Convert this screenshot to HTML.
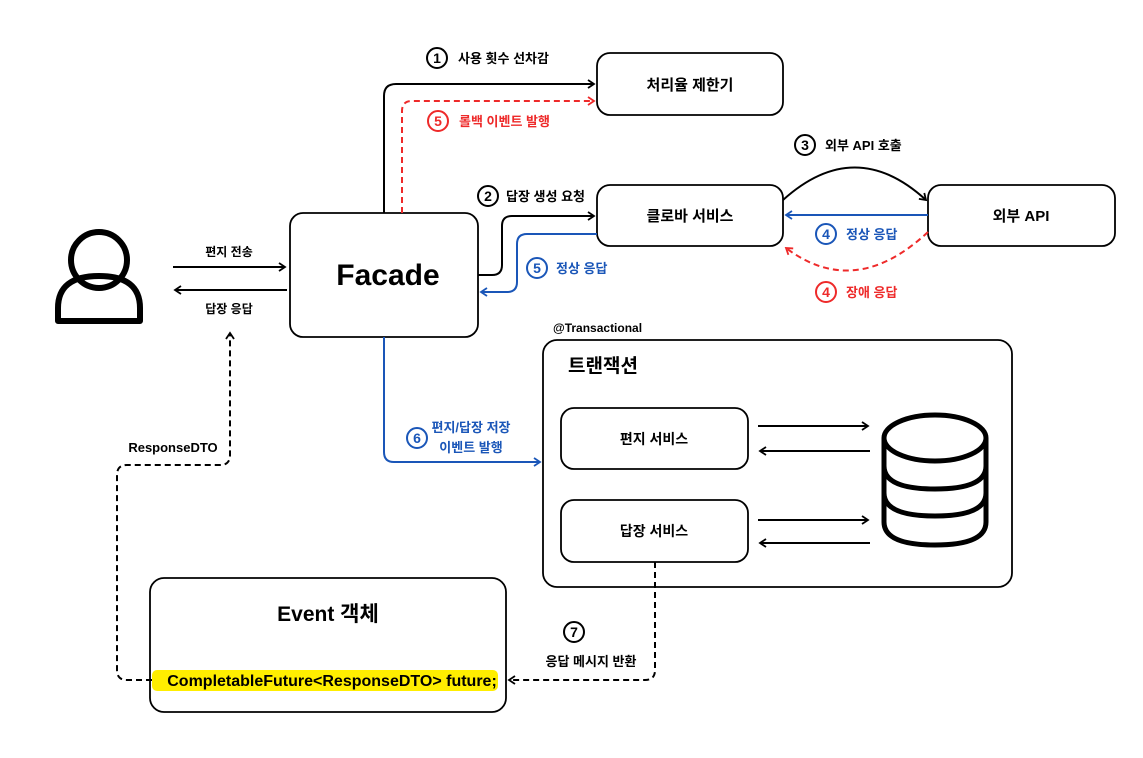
<!DOCTYPE html>
<html><head><meta charset="utf-8"><style>
html,body{margin:0;padding:0;background:#fff}
svg{display:block}
text{font-family:"Liberation Sans","Noto Sans CJK KR",sans-serif;font-weight:bold}
</style></head><body>
<svg width="1143" height="758" viewBox="0 0 1143 758" xmlns="http://www.w3.org/2000/svg">
<defs>
<marker id="ak" markerWidth="10" markerHeight="10" refX="8" refY="5" orient="auto" markerUnits="userSpaceOnUse"><path d="M2,1 L8,5 L2,9" fill="none" stroke="#000" stroke-width="1.8"/></marker>
<marker id="ab" markerWidth="10" markerHeight="10" refX="8" refY="5" orient="auto" markerUnits="userSpaceOnUse"><path d="M2,1 L8,5 L2,9" fill="none" stroke="#1a56b8" stroke-width="1.8"/></marker>
<marker id="ar" markerWidth="10" markerHeight="10" refX="8" refY="5" orient="auto" markerUnits="userSpaceOnUse"><path d="M2,1 L8,5 L2,9" fill="none" stroke="#ee2a2a" stroke-width="1.8"/></marker>
</defs>
<!-- person -->
<circle cx="99" cy="260" r="28" fill="none" stroke="#000" stroke-width="6"/>
<path d="M58,321 L58,308 Q58,276 99,276 Q140,276 140,308 L140,321 Z" fill="none" stroke="#000" stroke-width="6" stroke-linejoin="round"/>
<line x1="173" y1="267" x2="285" y2="267" stroke="#000" stroke-width="2" marker-end="url(#ak)"/>
<line x1="287" y1="290" x2="175" y2="290" stroke="#000" stroke-width="2" marker-end="url(#ak)"/>
<text x="229" y="256" font-size="12" text-anchor="middle">편지 전송</text>
<text x="229" y="313" font-size="12" text-anchor="middle">답장 응답</text>
<!-- boxes -->
<g fill="#fff" stroke="#000" stroke-width="1.8">
<rect x="290" y="213" width="188" height="124" rx="13"/>
<rect x="597" y="53" width="186" height="62" rx="13"/>
<rect x="597" y="185" width="186" height="61" rx="13"/>
<rect x="928" y="185" width="187" height="61" rx="13"/>
<rect x="543" y="340" width="469" height="247" rx="14"/>
<rect x="561" y="408" width="187" height="61" rx="13"/>
<rect x="561" y="500" width="187" height="62" rx="13"/>
<rect x="150" y="578" width="356" height="134" rx="14"/>
</g>
<text x="388" y="285" font-size="30" text-anchor="middle">Facade</text>
<text x="690" y="90" font-size="15" text-anchor="middle">처리율 제한기</text>
<text x="690" y="221" font-size="15" text-anchor="middle">클로바 서비스</text>
<text x="1021" y="221" font-size="15" text-anchor="middle">외부 API</text>
<text x="553" y="332" font-size="12">@Transactional</text>
<text x="568" y="372" font-size="19">트랜잭션</text>
<text x="654" y="444" font-size="14" text-anchor="middle">편지 서비스</text>
<text x="654" y="536" font-size="14" text-anchor="middle">답장 서비스</text>
<text x="328" y="621" font-size="21" text-anchor="middle">Event 객체</text>
<rect x="152" y="670" width="346" height="21" rx="5" fill="#ffee00"/>
<text x="332" y="686" font-size="16" text-anchor="middle">CompletableFuture&lt;ResponseDTO&gt; future;</text>
<!-- connectors -->
<path d="M384,213 L384,96 Q384,84 396,84 L594,84" fill="none" stroke="#000" stroke-width="2" marker-end="url(#ak)"/>
<path d="M402,213 L402,111 Q402,101 412,101 L594,101" fill="none" stroke="#ee2a2a" stroke-width="2" stroke-dasharray="6,4" marker-end="url(#ar)"/>
<path d="M478,275 L492,275 Q502,275 502,265 L502,226 Q502,216 512,216 L594,216" fill="none" stroke="#000" stroke-width="2" marker-end="url(#ak)"/>
<path d="M597,234 L527,234 Q517,234 517,244 L517,282 Q517,292 507,292 L481,292" fill="none" stroke="#1a56b8" stroke-width="2" marker-end="url(#ab)"/>
<path d="M783,200 Q855,135 926,200" fill="none" stroke="#000" stroke-width="2" marker-end="url(#ak)"/>
<line x1="928" y1="215" x2="786" y2="215" stroke="#1a56b8" stroke-width="2" marker-end="url(#ab)"/>
<path d="M928,232 Q855,300 786,248" fill="none" stroke="#ee2a2a" stroke-width="2" stroke-dasharray="6,4" marker-end="url(#ar)"/>
<path d="M384,337 L384,452 Q384,462 394,462 L540,462" fill="none" stroke="#1a56b8" stroke-width="2" marker-end="url(#ab)"/>
<line x1="758" y1="426" x2="868" y2="426" stroke="#000" stroke-width="2" marker-end="url(#ak)"/>
<line x1="870" y1="451" x2="760" y2="451" stroke="#000" stroke-width="2" marker-end="url(#ak)"/>
<line x1="758" y1="520" x2="868" y2="520" stroke="#000" stroke-width="2" marker-end="url(#ak)"/>
<line x1="870" y1="543" x2="760" y2="543" stroke="#000" stroke-width="2" marker-end="url(#ak)"/>
<path d="M655,562 L655,670 Q655,680 645,680 L509,680" fill="none" stroke="#000" stroke-width="2" stroke-dasharray="6,4" marker-end="url(#ak)"/>
<path d="M152,680 L127,680 Q117,680 117,670 L117,475 Q117,465 127,465 L220,465 Q230,465 230,455 L230,333" fill="none" stroke="#000" stroke-width="2" stroke-dasharray="6,4" marker-end="url(#ak)"/>
<!-- DB -->
<g fill="none" stroke="#000" stroke-width="5">
<ellipse cx="935" cy="438" rx="51" ry="23"/>
<path d="M884,438 L884,522 Q884,545 935,545 Q986,545 986,522 L986,438"/>
<path d="M884,466 Q884,489 935,489 Q986,489 986,466"/>
<path d="M884,493 Q884,516 935,516 Q986,516 986,493"/>
</g>
<!-- labels -->
<g font-size="13">
<circle cx="437" cy="58" r="10" fill="none" stroke="#000" stroke-width="2"/><text x="437" y="63" text-anchor="middle" font-size="14">1</text>
<text x="458" y="63">사용 횟수 선차감</text>
<circle cx="438" cy="121" r="10" fill="none" stroke="#ee2a2a" stroke-width="2"/><text x="438" y="126" text-anchor="middle" font-size="14" fill="#ee2a2a">5</text>
<text x="459" y="126" fill="#ee2a2a">롤백 이벤트 발행</text>
<circle cx="488" cy="196" r="10" fill="none" stroke="#000" stroke-width="2"/><text x="488" y="201" text-anchor="middle" font-size="14">2</text>
<text x="506" y="201">답장 생성 요청</text>
<circle cx="537" cy="268" r="10" fill="none" stroke="#1a56b8" stroke-width="2"/><text x="537" y="273" text-anchor="middle" font-size="14" fill="#1a56b8">5</text>
<text x="556" y="273" fill="#1a56b8">정상 응답</text>
<circle cx="805" cy="145" r="10" fill="none" stroke="#000" stroke-width="2"/><text x="805" y="150" text-anchor="middle" font-size="14">3</text>
<text x="825" y="150">외부 API 호출</text>
<circle cx="826" cy="234" r="10" fill="none" stroke="#1a56b8" stroke-width="2"/><text x="826" y="239" text-anchor="middle" font-size="14" fill="#1a56b8">4</text>
<text x="846" y="239" fill="#1a56b8">정상 응답</text>
<circle cx="826" cy="292" r="10" fill="none" stroke="#ee2a2a" stroke-width="2"/><text x="826" y="297" text-anchor="middle" font-size="14" fill="#ee2a2a">4</text>
<text x="846" y="297" fill="#ee2a2a">장애 응답</text>
<circle cx="417" cy="438" r="10" fill="none" stroke="#1a56b8" stroke-width="2"/><text x="417" y="443" text-anchor="middle" font-size="14" fill="#1a56b8">6</text>
<text x="471" y="432" fill="#1a56b8" text-anchor="middle">편지/답장 저장</text>
<text x="471" y="452" fill="#1a56b8" text-anchor="middle">이벤트 발행</text>
<circle cx="574" cy="632" r="10" fill="none" stroke="#000" stroke-width="2"/><text x="574" y="637" text-anchor="middle" font-size="14">7</text>
<text x="591" y="666" text-anchor="middle">응답 메시지 반환</text>
<text x="173" y="452" text-anchor="middle">ResponseDTO</text>
</g>
</svg>
</body></html>
